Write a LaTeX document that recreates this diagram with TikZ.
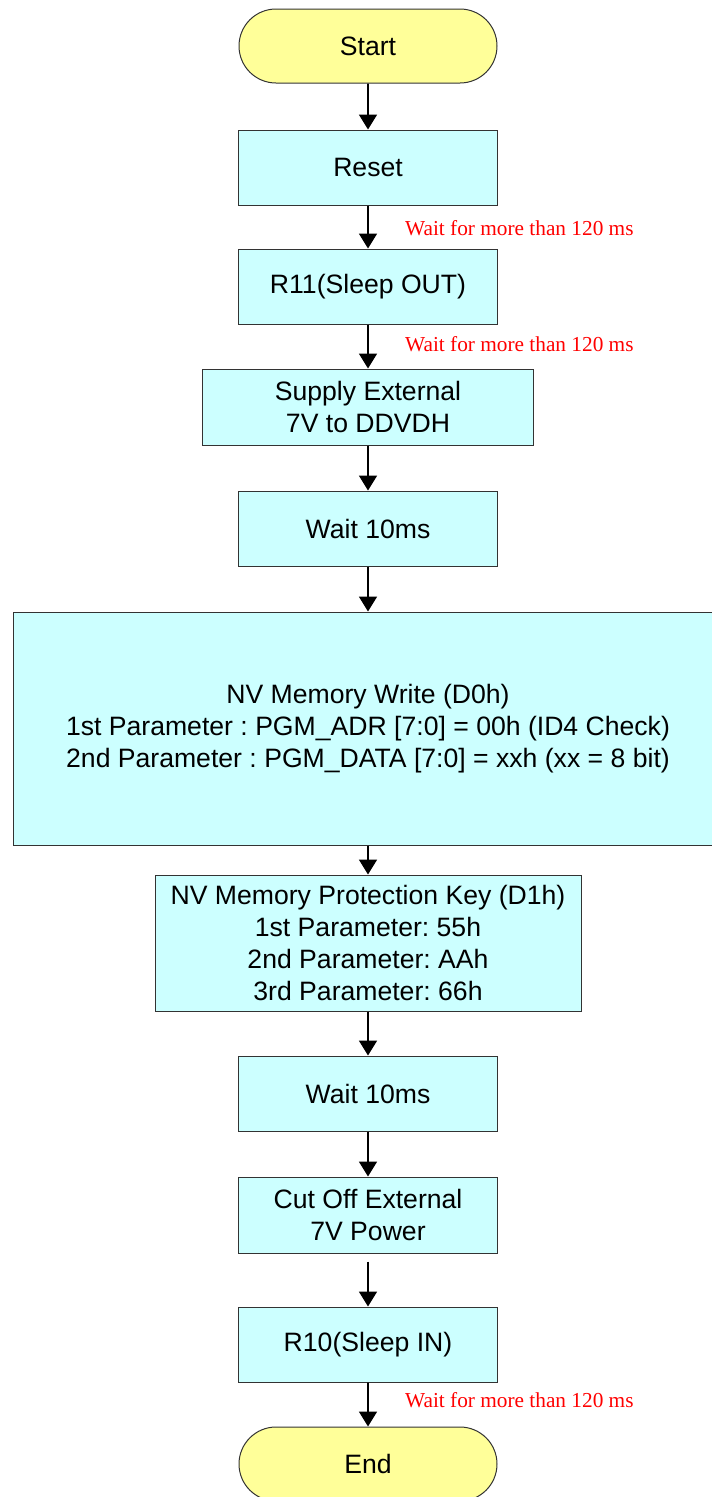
\documentclass[tikz,border=0pt]{standalone}
\usepackage{fontspec}
\setmainfont{Liberation Sans}
\newfontfamily\notefont{Liberation Serif}
\frenchspacing
\usetikzlibrary{
  arrows.meta,
  shapes.misc,
  positioning
}
\definecolor{procfill}{HTML}{CCFFFF}
\definecolor{termfill}{HTML}{FFFF99}
\newcommand{\boxfont}{\fontsize{26.6}{32}\selectfont}
\tikzset{
  proc box/.style={
    draw=black!80, fill=procfill, line width=1pt,
    inner sep=0pt, align=center,
    minimum width=259pt, minimum height=75pt,
    font=\boxfont
  },
  term box/.style={
    rounded rectangle, draw=black!80, fill=termfill, line width=1pt,
    inner sep=0pt, minimum width=258pt, minimum height=74pt,
    font=\boxfont
  },
  flow arrow/.style={
    -{Triangle[width=18pt,length=15pt]}, line width=1.8pt, draw=black
  },
  wait note/.style={
    anchor=west, text=red, inner sep=0pt,
    font=\notefont\fontsize{21.3}{24}\selectfont
  },
}

\begin{document}
\begin{tikzpicture}[x=1pt,y=-1pt]
  \useasboundingbox (0,0) rectangle (712,1497);

  % Power-on part
  \node[term box] (start) at (368, 46) {Start};
  \node[proc box] (reset) at (368, 167.5) {Reset};
  \node[proc box] (sleepout) at (368, 286.5) {R11(Sleep OUT)};
  \node[proc box, minimum width=331pt, minimum height=76pt] (supply) at (368, 407)
    {Supply External\\7V to DDVDH};
  \node[proc box] (waitA) at (368, 528.5) {Wait 10ms};

  % NV memory programming
  \node[proc box, minimum width=710pt, minimum height=233pt] (nvwrite) at (368, 728.5)
    {NV Memory Write (D0h)\\
     1st Parameter : PGM\_ADR [7:0] = 00h (ID4 Check)\\
     2nd Parameter : PGM\_DATA [7:0] = xxh (xx = 8 bit)};
  \node[proc box, minimum width=426pt, minimum height=136pt] (protkey) at (368, 943)
    {NV Memory Protection Key (D1h)\\
     1st Parameter: 55h\\
     2nd Parameter: AAh\\
     3rd Parameter: 66h};

  % Power-off part
  \node[proc box] (waitB) at (368, 1093.5) {Wait 10ms};
  \node[proc box, minimum height=76pt] (cutoff) at (368, 1215) {Cut Off External\\7V Power};
  \node[proc box] (sleepin) at (368, 1344.5) {R10(Sleep IN)};
  \node[term box] (stop) at (368, 1464) {End};

  % Connectors
  \draw[flow arrow] (start) -- (reset);
  \draw[flow arrow] (reset) -- (sleepout);
  \draw[flow arrow] (sleepout) -- (supply);
  \draw[flow arrow] (supply) -- (waitA);
  \draw[flow arrow] (waitA) -- (nvwrite);
  \draw[flow arrow] (nvwrite) -- (protkey);
  \draw[flow arrow] (protkey) -- (waitB);
  \draw[flow arrow] (waitB) -- (cutoff);
  \draw[flow arrow, shorten <=8pt] (cutoff) -- (sleepin);
  \draw[flow arrow] (sleepin) -- (stop);

  % Delay notes
  \node[wait note] (noteA) at (405, 228) {Wait for more than 120 ms};
  \node[wait note] (noteB) at (405, 344) {Wait for more than 120 ms};
  \node[wait note] (noteC) at (405, 1400) {Wait for more than 120 ms};

\end{tikzpicture}
\end{document}
